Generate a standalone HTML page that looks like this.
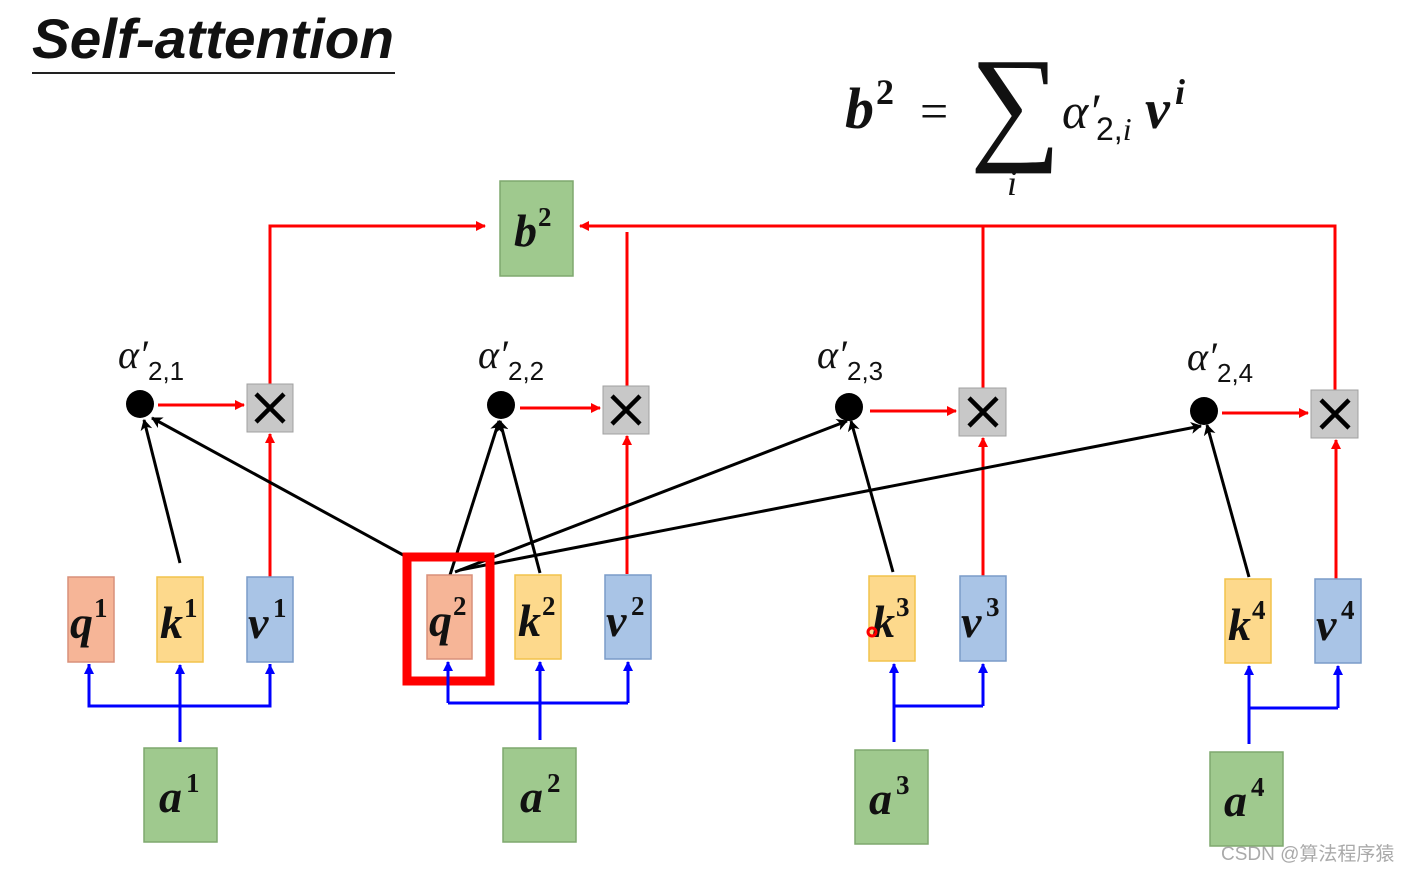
<!DOCTYPE html>
<html><head><meta charset="utf-8"><style>
html,body{margin:0;padding:0;background:#fff;}
svg{display:block;}
.v{font-family:"Liberation Serif",serif;font-weight:bold;font-style:italic;font-size:46px;fill:#111;}
.s{font-family:"Liberation Serif",serif;font-weight:bold;font-size:27px;fill:#111;}
.al{font-family:"Liberation Serif",serif;font-style:italic;font-size:40px;fill:#111;}
.sub{font-family:"Liberation Sans",sans-serif;font-size:26px;fill:#111;}
</style></head><body>
<svg width="1408" height="872" viewBox="0 0 1408 872" xmlns="http://www.w3.org/2000/svg">
<defs>
<marker id="ar" markerWidth="10" markerHeight="10" refX="9" refY="5" orient="auto" markerUnits="userSpaceOnUse"><path d="M0,0 L10,5 L0,10z" fill="#f00"/></marker>
<marker id="ab" markerWidth="10" markerHeight="10" refX="9" refY="5" orient="auto" markerUnits="userSpaceOnUse"><path d="M0,0 L10,5 L0,10z" fill="#00f"/></marker>
<marker id="ak" markerWidth="12" markerHeight="12" refX="10" refY="6" orient="auto" markerUnits="userSpaceOnUse"><path d="M0,0 L11,6 L0,12 L3,6z" fill="#000"/></marker>
</defs>
<text x="32" y="58" font-family="Liberation Sans,sans-serif" font-weight="bold" font-style="italic" font-size="56" fill="#111" textLength="362" lengthAdjust="spacingAndGlyphs">Self-attention</text>
<line x1="32" y1="73" x2="395" y2="73" stroke="#222" stroke-width="2"/>
<!-- formula -->
<text x="845" y="128" class="v" style="font-size:58px">b</text>
<text x="876" y="104" class="s" style="font-size:36px">2</text>
<text x="920" y="128" font-family="Liberation Serif,serif" font-size="50" fill="#111">=</text>
<text x="970" y="146" font-family="Liberation Serif,serif" font-size="128" fill="#111">∑</text>
<text x="1007" y="195" class="al" style="font-size:36px">i</text>
<text x="1062" y="128" class="al" style="font-size:50px">α′</text>
<text x="1096" y="140" class="sub" style="font-size:32px">2,<tspan font-family="Liberation Serif,serif" font-style="italic">i</tspan></text>
<text x="1145" y="128" class="v" style="font-size:56px">v</text>
<text x="1175" y="104" class="s" style="font-size:36px;font-style:italic">i</text>
<!-- red lines top -->
<g stroke="#f00" stroke-width="3" fill="none">
<polyline points="270,384 270,226 485,226" marker-end="url(#ar)"/>
<line x1="627" y1="386" x2="627" y2="232"/>
<polyline points="1335,390 1335,226 580,226" marker-end="url(#ar)"/>
<line x1="983" y1="388" x2="983" y2="226"/>
<line x1="158" y1="405" x2="244" y2="405" marker-end="url(#ar)"/>
<line x1="520" y1="408" x2="600" y2="408" marker-end="url(#ar)"/>
<line x1="870" y1="411" x2="956" y2="411" marker-end="url(#ar)"/>
<line x1="1222" y1="413" x2="1308" y2="413" marker-end="url(#ar)"/>
<line x1="270" y1="577" x2="270" y2="434" marker-end="url(#ar)"/>
<line x1="627" y1="574" x2="627" y2="436" marker-end="url(#ar)"/>
<line x1="983" y1="576" x2="983" y2="438" marker-end="url(#ar)"/>
<line x1="1336" y1="579" x2="1336" y2="440" marker-end="url(#ar)"/>
</g>
<!-- b2 -->
<rect x="500" y="181" width="73" height="95" fill="#9fc98e" stroke="#7fa86e" stroke-width="1.5"/>
<text x="514" y="246" class="v">b</text><text x="538" y="226" class="s">2</text>
<!-- X boxes -->
<g>
<rect x="247" y="384" width="46" height="48" fill="#c8c8c8" stroke="#a0a0a0"/>
<rect x="603" y="386" width="46" height="48" fill="#c8c8c8" stroke="#a0a0a0"/>
<rect x="959" y="388" width="47" height="48" fill="#c8c8c8" stroke="#a0a0a0"/>
<rect x="1311" y="390" width="47" height="48" fill="#c8c8c8" stroke="#a0a0a0"/>
</g>
<g stroke="#000" stroke-width="4.5">
<path d="M256,394 L284,422 M284,394 L256,422"/>
<path d="M612,396 L640,424 M640,396 L612,424"/>
<path d="M969,398 L997,426 M997,398 L969,426"/>
<path d="M1321,400 L1349,428 M1349,400 L1321,428"/>
</g>
<!-- dots -->
<circle cx="140" cy="404" r="14" fill="#000"/>
<circle cx="501" cy="405" r="14" fill="#000"/>
<circle cx="849" cy="407" r="14" fill="#000"/>
<circle cx="1204" cy="411" r="14" fill="#000"/>
<!-- alpha labels -->
<text x="118" y="368" class="al">α′</text><text x="148" y="380" class="sub">2,1</text>
<text x="478" y="368" class="al">α′</text><text x="508" y="380" class="sub">2,2</text>
<text x="817" y="368" class="al">α′</text><text x="847" y="380" class="sub">2,3</text>
<text x="1187" y="370" class="al">α′</text><text x="1217" y="382" class="sub">2,4</text>
<!-- black lines -->
<g stroke="#000" stroke-width="3" fill="none">
<line x1="180" y1="563" x2="144" y2="420" marker-end="url(#ak)"/>
<line x1="405" y1="556" x2="152" y2="418" marker-end="url(#ak)"/>
<line x1="450" y1="575" x2="499" y2="421" marker-end="url(#ak)"/>
<line x1="540" y1="573" x2="500" y2="421" marker-end="url(#ak)"/>
<line x1="455" y1="572" x2="847" y2="421" marker-end="url(#ak)"/>
<line x1="460" y1="570" x2="1201" y2="426" marker-end="url(#ak)"/>
<line x1="893" y1="572" x2="851" y2="421" marker-end="url(#ak)"/>
<line x1="1249" y1="577" x2="1207" y2="425" marker-end="url(#ak)"/>
</g>
<!-- qkv boxes -->
<g stroke-width="1.5">
<rect x="68" y="577" width="46" height="85" fill="#f6b597" stroke="#d8907a"/>
<rect x="157" y="577" width="46" height="85" fill="#fdd98c" stroke="#f2c34c"/>
<rect x="247" y="577" width="46" height="85" fill="#a9c4e6" stroke="#7a9bc8"/>
<rect x="427" y="575" width="45" height="84" fill="#f6b597" stroke="#d8907a"/>
<rect x="515" y="575" width="46" height="84" fill="#fdd98c" stroke="#f2c34c"/>
<rect x="605" y="575" width="46" height="84" fill="#a9c4e6" stroke="#7a9bc8"/>
<rect x="869" y="576" width="46" height="85" fill="#fdd98c" stroke="#f2c34c"/>
<rect x="960" y="576" width="46" height="85" fill="#a9c4e6" stroke="#7a9bc8"/>
<rect x="1225" y="579" width="46" height="84" fill="#fdd98c" stroke="#f2c34c"/>
<rect x="1315" y="579" width="46" height="84" fill="#a9c4e6" stroke="#7a9bc8"/>
</g>
<text x="70" y="638" class="v">q</text><text x="94" y="617" class="s">1</text>
<text x="160" y="638" class="v">k</text><text x="184" y="617" class="s">1</text>
<text x="248" y="638" class="v">v</text><text x="273" y="617" class="s">1</text>
<text x="429" y="636" class="v">q</text><text x="453" y="615" class="s">2</text>
<text x="518" y="636" class="v">k</text><text x="542" y="615" class="s">2</text>
<text x="606" y="636" class="v">v</text><text x="631" y="615" class="s">2</text>
<text x="872" y="637" class="v">k</text><text x="896" y="616" class="s">3</text>
<text x="961" y="637" class="v">v</text><text x="986" y="616" class="s">3</text>
<text x="1228" y="640" class="v">k</text><text x="1252" y="619" class="s">4</text>
<text x="1316" y="640" class="v">v</text><text x="1341" y="619" class="s">4</text>
<circle cx="872" cy="632" r="4" fill="none" stroke="#f00" stroke-width="3"/>
<!-- red highlight -->
<rect x="407" y="557" width="83" height="124" fill="none" stroke="#f00" stroke-width="9"/>
<!-- blue -->
<g stroke="#00f" stroke-width="3" fill="none">
<polyline points="89,664 89,706 270,706 270,664"/>
<line x1="89" y1="706" x2="89" y2="665" marker-end="url(#ab)"/>
<line x1="270" y1="706" x2="270" y2="665" marker-end="url(#ab)"/>
<line x1="180" y1="742" x2="180" y2="665" marker-end="url(#ab)"/>
<polyline points="448,703 628,703"/>
<line x1="448" y1="703" x2="448" y2="662" marker-end="url(#ab)"/>
<line x1="628" y1="703" x2="628" y2="662" marker-end="url(#ab)"/>
<line x1="540" y1="740" x2="540" y2="662" marker-end="url(#ab)"/>
<polyline points="894,706 983,706"/>
<line x1="983" y1="706" x2="983" y2="664" marker-end="url(#ab)"/>
<line x1="894" y1="742" x2="894" y2="664" marker-end="url(#ab)"/>
<polyline points="1249,708 1338,708"/>
<line x1="1338" y1="708" x2="1338" y2="666" marker-end="url(#ab)"/>
<line x1="1249" y1="744" x2="1249" y2="666" marker-end="url(#ab)"/>
</g>
<!-- a boxes -->
<g fill="#9fc98e" stroke="#7fa86e" stroke-width="1.5">
<rect x="144" y="748" width="73" height="94"/>
<rect x="503" y="748" width="73" height="94"/>
<rect x="855" y="750" width="73" height="94"/>
<rect x="1210" y="752" width="73" height="94"/>
</g>
<text x="159" y="812" class="v">a</text><text x="186" y="792" class="s">1</text>
<text x="520" y="812" class="v">a</text><text x="547" y="792" class="s">2</text>
<text x="869" y="814" class="v">a</text><text x="896" y="794" class="s">3</text>
<text x="1224" y="816" class="v">a</text><text x="1251" y="796" class="s">4</text>
<text x="1221" y="860" font-family="Liberation Sans,'Noto Sans CJK SC',sans-serif" font-size="19" fill="#aaa">CSDN @算法程序猿</text>
</svg>
</body></html>
